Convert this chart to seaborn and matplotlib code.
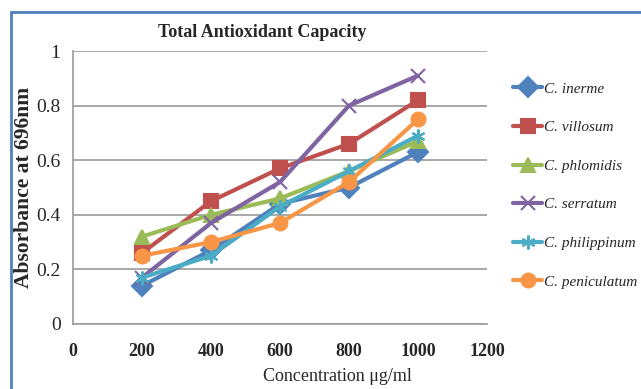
import pandas as pd
import matplotlib
matplotlib.use("Agg")
import matplotlib.pyplot as plt
from matplotlib.lines import Line2D
import seaborn as sns

# values
conc = [200, 400, 600, 800, 1000]
inerme = [0.14, 0.27, 0.44, 0.50, 0.63]
villosum = [0.26, 0.45, 0.57, 0.66, 0.82]
phlomidis = [0.32, 0.40, 0.46, 0.56, 0.67]
serratum = [0.17, 0.37, 0.52, 0.80, 0.91]
philippinum = [0.17, 0.25, 0.43, 0.56, 0.69]
peniculatum = [0.25, 0.30, 0.37, 0.52, 0.75]
species = ["C. inerme", "C. villosum", "C. phlomidis", "C. serratum",
           "C. philippinum", "C. peniculatum"]
xticks = [0, 200, 400, 600, 800, 1000, 1200]
yticks = [0, 0.2, 0.4, 0.6, 0.8, 1]
ytick_labels = ["0", "0.2", "0.4", "0.6", "0.8", "1"]

colors = ["#4F81BD", "#C0504D", "#9BBB59", "#8064A2", "#4BACC6", "#F79646"]
markers = ["D", "s", "^", "x", (6, 2, 0), "o"]

series = [inerme, villosum, phlomidis, serratum, philippinum, peniculatum]

sns.set_style("white")
plt.rcParams["font.family"] = ["Liberation Serif", "DejaVu Serif"]

fig = plt.figure(figsize=(6.41, 3.89), dpi=100)
ax = fig.add_axes([73 / 641, 1 - 324 / 389, 414 / 641, 273 / 389])

for name, vals, c, m in zip(species, series, colors, markers):
    d = pd.DataFrame({"conc": conc, "abs": vals})
    sns.lineplot(data=d, x="conc", y="abs", color=c, marker=m,
                 linewidth=3, markersize=10, markeredgewidth=1.5,
                 markeredgecolor=c, ax=ax, label=name)
ax.get_legend().remove()

ax.set_xlim(0, 1200)
ax.set_ylim(0, 1)
ax.set_xticks(xticks)
ax.set_yticks(yticks)
ax.set_yticklabels(ytick_labels)
ax.grid(axis="y", color="#9a9a9a", linewidth=1.2)
ax.set_axisbelow(True)
for s in ["top", "right"]:
    ax.spines[s].set_visible(False)
for s in ["left", "bottom"]:
    ax.spines[s].set_color("#9a9a9a")
    ax.spines[s].set_linewidth(1.2)
ax.tick_params(axis="y", length=0, pad=9, labelsize=14)
ax.tick_params(axis="x", length=0, pad=14, labelsize=13)
for lab in ax.get_xticklabels():
    lab.set_fontweight("bold")

ax.set_xlabel("")
ax.set_ylabel("")
ax.text(0.457, 1.066, "Total Antioxidant Capacity", transform=ax.transAxes,
        ha="center", va="center", fontsize=13, fontweight="bold")
ax.text(-0.118, 0.5, "Absorbance at 696nm", transform=ax.transAxes,
        ha="center", va="center", rotation=90, fontsize=15.5, fontweight="bold")
ax.text(0.638, -0.194, "Concentration μg/ml", transform=ax.transAxes,
        ha="center", va="center", fontsize=13)

handles = [Line2D([], [], color=c, marker=m, linewidth=3, markersize=10,
                  markeredgewidth=1.5) for c, m in zip(colors, markers)]
fig.legend(handles, species, loc="upper left",
           bbox_to_anchor=(513 / 641, 1 - 82 / 389), frameon=False,
           borderpad=0, borderaxespad=0, handlelength=1.9, handletextpad=0.15,
           labelspacing=1.63, prop={"style": "italic", "size": 11})

# blue frame around the chart, cut by the image edges
fig.add_artist(Line2D([11 / 641, 1.0], [1 - 12 / 389, 1 - 12 / 389],
                      color="#4F81BD", linewidth=2))
fig.add_artist(Line2D([11 / 641, 11 / 641], [0.0, 1 - 12 / 389],
                      color="#4F81BD", linewidth=2))

fig.savefig("out.png", dpi=100)
